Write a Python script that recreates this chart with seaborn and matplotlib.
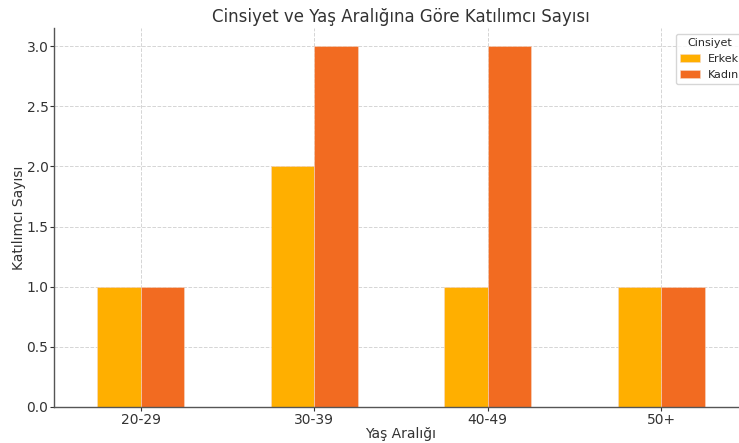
import pandas as pd
import matplotlib.pyplot as plt
import seaborn as sns

# Data
age_groups = ["20-29", "30-39", "40-49", "50+"]
erkek = [1, 2, 1, 1]
kadin = [1, 3, 3, 1]

df = pd.DataFrame({
    "Yaş Aralığı": age_groups * 2,
    "Sayı": erkek + kadin,
    "Cinsiyet": ["Erkek"] * 4 + ["Kadın"] * 4,
})

sns.set_style("whitegrid")
plt.rcParams['font.family'] = ['DejaVu Sans']

fig = plt.figure(figsize=(7.39, 4.43), dpi=100)
ax = fig.add_axes([54 / 739, 36 / 443, 694 / 739, 379 / 443])

sns.barplot(
    data=df, x="Yaş Aralığı", y="Sayı", hue="Cinsiyet",
    palette={"Erkek": "#FFAF00", "Kadın": "#F26B21"},
    width=0.5, saturation=1, ax=ax,
    edgecolor="#f5d9c8", linewidth=0.4,
)

ax.set_ylim(0, 3.15)
ax.set_yticks([0, 0.5, 1.0, 1.5, 2.0, 2.5, 3.0])
ax.set_yticklabels(["0.0", "0.5", "1.0", "1.5", "2.0", "2.5", "3.0"])
ax.grid(True, linestyle="--", color="#d5d5d5", linewidth=0.7)
ax.set_axisbelow(True)
for s in ["top", "right"]:
    ax.spines[s].set_visible(False)
for s in ["left", "bottom"]:
    ax.spines[s].set_visible(True)
    ax.spines[s].set_color("#555555")
    ax.spines[s].set_linewidth(1.0)
ax.tick_params(axis="both", colors="#333333", labelsize=10, length=3, pad=1, left=True, bottom=True)

ax.set_title("Cinsiyet ve Yaş Aralığına Göre Katılımcı Sayısı", fontsize=12, color="#333333", pad=4)
ax.set_xlabel("Yaş Aralığı", fontsize=10, color="#333333")
ax.set_ylabel("Katılımcı Sayısı", fontsize=10, color="#333333")
ax.xaxis.set_label_coords(0.5, -20 / 379)
ax.yaxis.set_label_coords(-28 / 694, 0.5)

leg = ax.legend(title="Cinsiyet", loc="upper left",
                bbox_to_anchor=((676 - 54) / 694, 1 - 6 / 379),
                borderaxespad=0, fontsize=8, title_fontsize=8, frameon=True,
                handlelength=1.8, handletextpad=0.7, borderpad=0.4)
leg.get_frame().set_edgecolor("#cccccc")

fig.savefig("out.png", dpi=100)
